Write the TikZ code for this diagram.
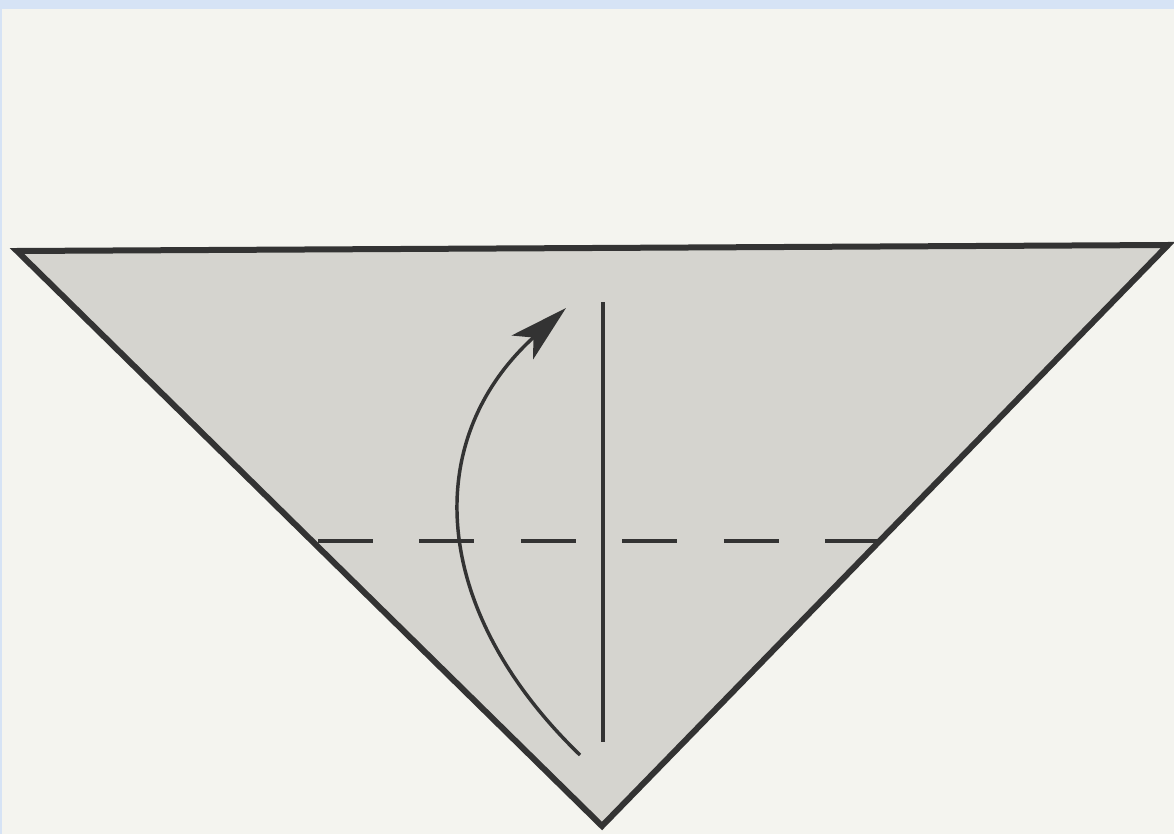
\documentclass[tikz,border=0pt]{standalone}
\usetikzlibrary{arrows.meta}
\definecolor{bg}{HTML}{F4F4EF}
\definecolor{band}{HTML}{D6E3F5}
\definecolor{paper}{HTML}{D5D4CF}
\definecolor{ink}{HTML}{333333}
\tikzset{
  outline/.style={draw=ink,line width=4.5pt,line join=miter,fill=paper},
  foldline/.style={draw=ink,line width=3pt,dash pattern=on 41.2pt off 34.9pt},
  creaseline/.style={draw=ink,line width=3pt},
  movearrow/.style={draw=ink,line width=2.6pt,-{Stealth[length=44pt,width=24pt,inset=11pt]}}
}
\begin{document}
\begin{tikzpicture}[x=0.75pt,y=-0.75pt]
\useasboundingbox (0,0) rectangle (1174,834);
\fill[bg] (0,0) rectangle (1174,834);
\fill[band] (0,0) rectangle (1174,9);
\fill[band] (0,0) rectangle (2,834);
\coordinate (tl) at (17,251);
\coordinate (tr) at (1168,245);
\coordinate (bt) at (602,826);
\coordinate (dl) at (318,541);
\coordinate (dr) at (880,541);
\coordinate (vt) at (603,302);
\coordinate (vb) at (603,742);
\coordinate (as) at (580,755);
\coordinate (ae) at (566,308);
\path[outline] (tl) -- (tr) -- (bt) -- cycle;
\draw[foldline] (dl) -- (dr);
\draw[creaseline] (vt) -- (vb);
\draw[movearrow] (as) .. controls (430,610) and (420,440) .. (ae);
\end{tikzpicture}
\end{document}
